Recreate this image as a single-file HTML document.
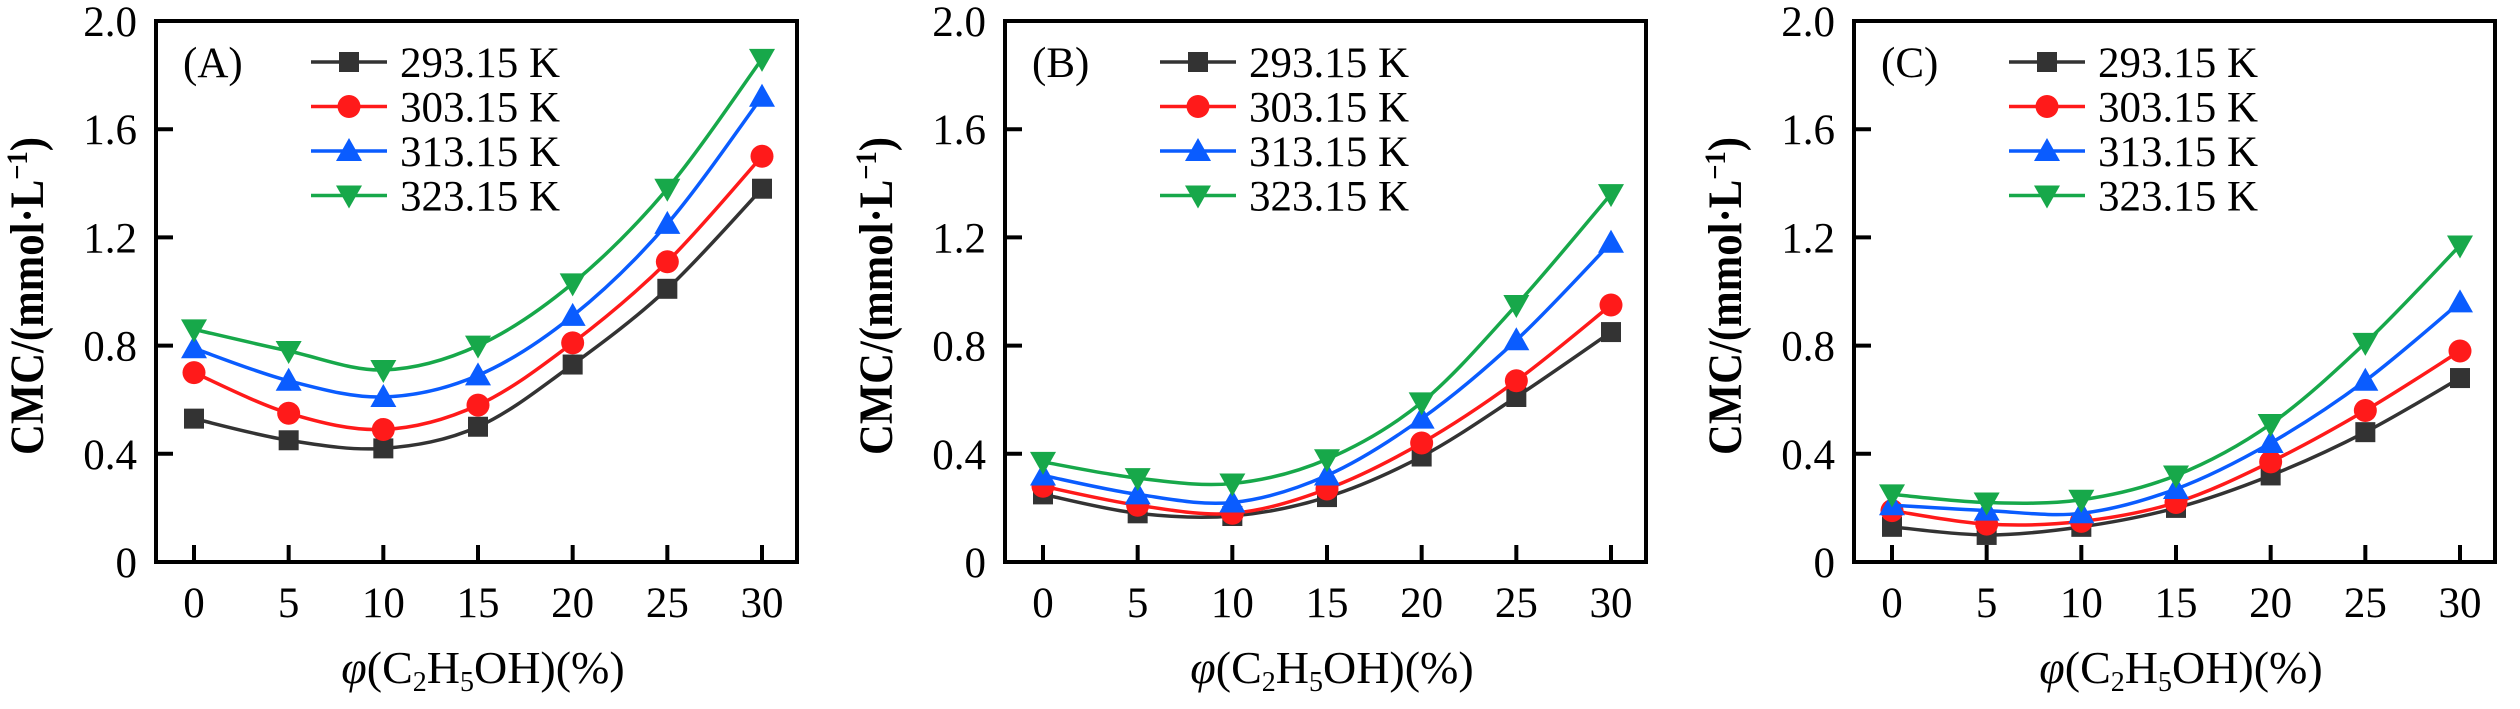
<!DOCTYPE html>
<html><head><meta charset="utf-8"><style>
html,body{margin:0;padding:0;background:#fff;}
svg{display:block;font-family:"Liberation Serif",serif;}
</style></head><body>
<svg id="chart" width="2520" height="709" viewBox="0 0 2520 709" xmlns="http://www.w3.org/2000/svg" font-family="Liberation Serif, serif"></svg>
<script>
const xCategories = [0, 5, 10, 15, 20, 25, 30];
const yTicks = [0, 0.4, 0.8, 1.2, 1.6, 2.0];
const yTickLabels = ["0", "0.4", "0.8", "1.2", "1.6", "2.0"];
const seriesNames = ["293.15 K", "303.15 K", "313.15 K", "323.15 K"];
const panelLabels = ["(A)", "(B)", "(C)"];
const panelA293 = [0.53,0.45,0.42,0.50,0.73,1.01,1.38];
const panelA303 = [0.70,0.55,0.49,0.58,0.81,1.11,1.50];
const panelA313 = [0.79,0.67,0.61,0.69,0.91,1.25,1.72];
const panelA323 = [0.86,0.78,0.71,0.80,1.03,1.38,1.86];
const panelB293 = [0.25,0.18,0.17,0.24,0.39,0.61,0.85];
const panelB303 = [0.28,0.21,0.18,0.27,0.44,0.67,0.95];
const panelB313 = [0.32,0.25,0.22,0.32,0.53,0.82,1.18];
const panelB323 = [0.37,0.31,0.29,0.38,0.59,0.95,1.36];
const panelC293 = [0.13,0.10,0.13,0.20,0.32,0.48,0.68];
const panelC303 = [0.19,0.14,0.15,0.22,0.37,0.56,0.78];
const panelC313 = [0.21,0.19,0.18,0.27,0.44,0.67,0.96];
const panelC323 = [0.25,0.22,0.23,0.32,0.51,0.81,1.17];
const panels = [
  [panelA293, panelA303, panelA313, panelA323],
  [panelB293, panelB303, panelB313, panelB323],
  [panelC293, panelC303, panelC313, panelC323]
];

const NS = "http://www.w3.org/2000/svg";
const svgRoot = document.getElementById('chart');
const colors = ["#333333", "#ff1a1a", "#0a5cff", "#17a84a"];
const markers = ["square", "circle", "up", "down"];
function mk(tag, attrs, parent) {
  const e = document.createElementNS(NS, tag);
  for (const k in attrs) e.setAttribute(k, attrs[k]);
  (parent || svgRoot).appendChild(e);
  return e;
}
function marker(g, type, x, y, c) {
  let e;
  if (type === "square") e = mk('rect', {x: x-10, y: y-10, width: 20, height: 20, fill: c}, g);
  else if (type === "circle") e = mk('circle', {cx: x, cy: y, r: 11.5, fill: c}, g);
  else if (type === "up") e = mk('polygon', {points: `${x},${y-13} ${x+13},${y+10} ${x-13},${y+10}`, fill: c}, g);
  else e = mk('polygon', {points: `${x},${y+13} ${x+13},${y-10} ${x-13},${y-10}`, fill: c}, g);
  return e;
}
function smoothPath(pts) {
  let d = `M${pts[0][0]},${pts[0][1]}`;
  for (let i = 0; i < pts.length - 1; i++) {
    const p0 = pts[Math.max(i-1,0)], p1 = pts[i], p2 = pts[i+1], p3 = pts[Math.min(i+2,pts.length-1)];
    const c1 = [p1[0] + (p2[0]-p0[0])/6, p1[1] + (p2[1]-p0[1])/6];
    const c2 = [p2[0] - (p3[0]-p1[0])/6, p2[1] - (p3[1]-p1[1])/6];
    d += ` C${c1[0]},${c1[1]} ${c2[0]},${c2[1]} ${p2[0]},${p2[1]}`;
  }
  return d;
}

const boxW = 641, plotTop = 21, plotBottom = 562;
const panelLefts = [156, 1005, 1854];
panels.forEach((series, pi) => {
  const L = panelLefts[pi];
  const xScale = v => L + 38 + (v - xCategories[0]) / (xCategories[xCategories.length-1] - xCategories[0]) * 568;
  const yScale = v => plotBottom - v / 2.0 * (plotBottom - plotTop);
  const g = mk('g', {});
  
  

  yTicks.forEach((t, i) => {
    const y = yScale(t);
    if (i > 0 && i < yTicks.length - 1) {
      const tk = mk('line', {x1: L, x2: L+17, y1: y, y2: y, stroke: '#000', 'stroke-width': 4}, g);
      
      
    }
    const tl = mk('text', {x: L-19, y: y+15, 'text-anchor': 'end', 'font-size': 43}, g);
    tl.textContent = yTickLabels[i];
    
    
  });
  xCategories.forEach(c => {
    const x = xScale(c);
    const tk = mk('line', {x1: x, x2: x, y1: plotBottom, y2: plotBottom-17, stroke: '#000', 'stroke-width': 4}, g);
    
    
    const tl = mk('text', {x: x, y: 617, 'text-anchor': 'middle', 'font-size': 43}, g);
    tl.textContent = String(c);
    
    
  });

  series.forEach((vals, si) => {
    const sg = mk('g', {}, g);
    
    
    const pts = vals.map((v, i) => [xScale(xCategories[i]), yScale(v)]);
    const p = mk('path', {d: smoothPath(pts), fill: 'none', stroke: colors[si], 'stroke-width': 3.5}, sg);
    
    
    pts.forEach(pt => {
      const m = marker(sg, markers[si], pt[0], pt[1], colors[si]);
      
      
    });
  });

  const box = mk('rect', {x: L, y: plotTop, width: boxW, height: plotBottom-plotTop, fill: 'none', stroke: '#000', 'stroke-width': 4}, g);
  
  

  const pl = mk('text', {x: L+27, y: 77, 'font-size': 43}, g);
  pl.textContent = panelLabels[pi];
  
  

  const lg = mk('g', {}, g);
  
  
  seriesNames.forEach((n, si) => {
    const y = 62 + si * 44.5;
    const eg = mk('g', {}, lg);
    
    
    mk('line', {x1: L+155, x2: L+231, y1: y, y2: y, stroke: colors[si], 'stroke-width': 3.5}, eg);
    marker(eg, markers[si], L+193, y, colors[si]);
    const t = mk('text', {x: L+244, y: y+15, 'font-size': 43}, eg);
    t.textContent = n;
  });

  const yt = mk('text', {transform: `translate(${L-113},296) rotate(-90)`, 'text-anchor': 'middle', 'font-size': 48, 'font-weight': 'bold', textLength: 318, lengthAdjust: 'spacingAndGlyphs'}, g);
  yt.innerHTML = 'CMC/(mmol·L<tspan dy="-16" font-size="30">−1</tspan><tspan dy="16">)</tspan>';
  
  

  const xt = mk('text', {x: L+327, y: 683, 'text-anchor': 'middle', 'font-size': 46}, g);
  xt.innerHTML = '<tspan font-style="italic">φ</tspan>(C<tspan font-size="28" dy="8">2</tspan><tspan dy="-8">H</tspan><tspan font-size="28" dy="8">5</tspan><tspan dy="-8">OH)(%)</tspan>';
  
  
});
</script>
</body></html>
